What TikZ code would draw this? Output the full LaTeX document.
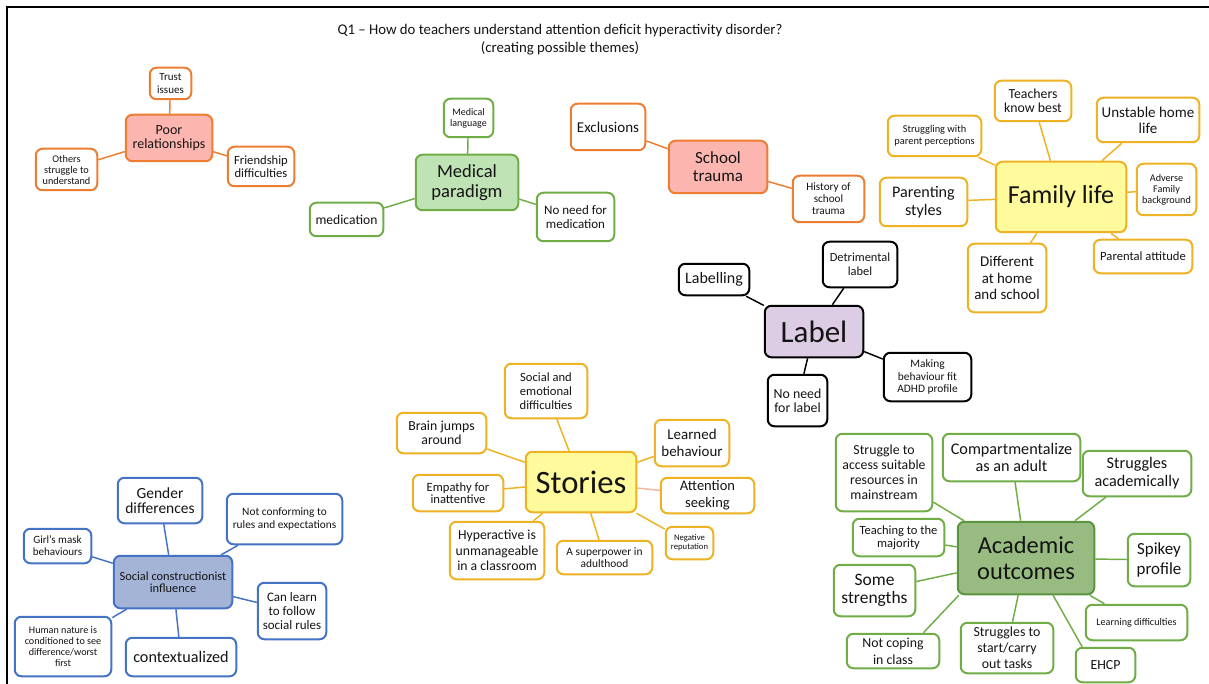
\documentclass[tikz,border=0pt]{standalone}
\usepackage{fontspec}
\setmainfont{Carlito}
\definecolor{orangeB}{HTML}{ED7D31}
\definecolor{salmonF}{HTML}{FDB6AF}
\definecolor{greenB}{HTML}{70AD47}
\definecolor{mintF}{HTML}{BFE3B4}
\definecolor{goldB}{HTML}{EEB222}
\definecolor{lemonF}{HTML}{FFFB9C}
\definecolor{lilacF}{HTML}{DCCCE4}
\definecolor{mossF}{HTML}{97BB80}
\definecolor{mossB}{HTML}{5E9440}
\definecolor{blueB}{HTML}{4472C4}
\definecolor{steelF}{HTML}{A3B4D7}
\definecolor{peachL}{HTML}{F4B6A0}
\definecolor{ink}{HTML}{141414}

\tikzset{
  boxbase/.style={rounded corners=5pt, line width=1.5pt, align=center, inner sep=1pt, text=ink, fill=white},
  obox/.style={boxbase, draw=orangeB},
  ohub/.style={boxbase, draw=orangeB, fill=salmonF},
  gbox/.style={boxbase, draw=greenB},
  ghub/.style={boxbase, draw=greenB, fill=mintF},
  ybox/.style={boxbase, draw=goldB},
  yhub/.style={boxbase, draw=goldB, fill=lemonF},
  kbox/.style={boxbase, draw=black},
  khub/.style={boxbase, draw=black, fill=lilacF},
  mhub/.style={boxbase, draw=mossB, fill=mossF},
  bbox/.style={boxbase, draw=blueB},
  bhub/.style={boxbase, draw=blueB, fill=steelF},
  link/.style={line width=1.1pt},
  olink/.style={link, draw=orangeB},
  glink/.style={link, draw=greenB},
  ylink/.style={link, draw=goldB},
  klink/.style={link, draw=black},
  blink/.style={link, draw=blueB},
}

% \bx{name}{style}{x1}{y1}{x2}{y2}{font size}{baselineskip}{text}
\newcommand\bx[9]{%
  \node[#2, minimum width={((#5)-(#3)-1.5)*0.75pt},
        minimum height={((#6)-(#4)-1.5)*0.75pt},
        font={\fontsize{#7}{#8}\selectfont}]
    (#1) at ({((#3)+(#5))/2},{((#4)+(#6))/2}) {#9};}

\begin{document}
\begin{tikzpicture}[x=0.75pt,y=-0.75pt]
\useasboundingbox (0,0) rectangle (1209,684);
\fill[white] (0,0) rectangle (1209,684);
\draw[line width=2pt] (7,684) -- (7,7) -- (1209,7);

% heading
\node[align=center, text=ink, font={\fontsize{11.1}{13.6}\selectfont}] (title) at (560,40)
  {Q1 – How do teachers understand attention deficit hyperactivity disorder?\\(creating possible themes)};

% Poor relationships
\bx{poor}{ohub}{125}{114}{213}{162}{10.5}{10.1}{Poor\\relationships}
\bx{trust}{obox}{149}{67}{192}{100}{8.25}{9.75}{Trust\\issues}
\bx{others}{obox}{35}{148}{98}{191}{7.7}{8.25}{Others\\struggle to\\understand}
\bx{friend}{obox}{227}{146}{295}{187}{9.45}{9.4}{Friendship\\difficulties}

% Medical paradigm
\bx{medical}{ghub}{415}{154}{519}{211}{13.9}{15}{Medical\\paradigm}
\bx{medlang}{gbox}{443}{98}{494}{138}{7.5}{8.25}{Medical\\language}
\bx{medication}{gbox}{309}{202}{384}{237}{10.2}{12}{medication}
\bx{noneedmed}{gbox}{536}{192}{615}{242}{9.75}{11}{No need for\\medication}

% School trauma
\bx{school}{ohub}{668}{140}{768}{194}{12.75}{13.7}{School\\trauma}
\bx{exclusions}{obox}{570}{103}{646}{151}{11.25}{13}{Exclusions}
\bx{history}{obox}{792}{175}{865}{223}{8.4}{9}{History of\\school\\trauma}

% Family life
\bx{family}{yhub}{995}{161}{1127}{233}{19.5}{21}{Family life}
\bx{teachers}{ybox}{994}{80}{1072}{122}{10.35}{10.5}{Teachers\\know best}
\bx{unstable}{ybox}{1096}{97}{1200}{143}{11.25}{11.8}{Unstable home\\life}
\bx{strugpar}{ybox}{887}{115}{982}{157}{7.8}{8.8}{Struggling with\\parent perceptions}
\bx{parenting}{ybox}{879}{177}{968}{227}{12.1}{13.7}{Parenting\\styles}
\bx{adverse}{ybox}{1136}{163}{1197}{216}{7.65}{8.25}{Adverse\\Family\\background}
\bx{attitude}{ybox}{1093}{239}{1193}{274}{9.45}{11}{Parental attitude}
\bx{different}{ybox}{967}{243}{1047}{313}{11.2}{12.5}{Different\\at home\\and school}

% Label
\bx{label}{khub}{764}{305}{864}{358}{23.25}{24}{Label}
\bx{labelling}{kbox}{678}{263}{750}{296}{12}{13}{Labelling}
\bx{detrimental}{kbox}{822}{241}{898}{288}{9.3}{10.5}{Detrimental\\label}
\bx{making}{kbox}{883}{352}{972}{402}{8.55}{9.5}{Making\\behaviour fit\\ADHD profile}
\bx{noneedlab}{kbox}{767}{374}{828}{427}{10.4}{10.5}{No need\\for label}

% Stories
\bx{stories}{yhub}{525}{451}{637}{513}{24.5}{25}{Stories}
\bx{socemo}{ybox}{504}{363}{588}{419}{9.45}{10.5}{Social and\\emotional\\difficulties}
\bx{brain}{ybox}{396}{412}{487}{454}{10.35}{10.5}{Brain jumps\\around}
\bx{learned}{ybox}{654}{419}{730}{467}{11.2}{12.5}{Learned\\behaviour}
\bx{attention}{ybox}{660}{477}{755}{514}{10.9}{12.5}{Attention\\seeking}
\bx{empathy}{ybox}{412}{474}{504}{512}{9.45}{9.2}{Empathy for\\inattentive}
\bx{hyper}{ybox}{449}{521}{545}{580}{10.3}{11.5}{Hyperactive is\\unmanageable\\in a classroom}
\bx{superpower}{ybox}{556}{540}{653}{575}{8.55}{8.8}{A superpower in\\adulthood}
\bx{negative}{ybox}{665}{526}{714}{560}{6.5}{7}{Negative\\reputation}

% Academic outcomes
\bx{academic}{mhub}{957}{521}{1095}{595}{18.3}{19.3}{Academic\\outcomes}
\bx{access}{gbox}{835}{433}{933}{512}{10.35}{11.25}{Struggle to\\access suitable\\resources in\\mainstream}
\bx{compart}{gbox}{942}{433}{1081}{482}{12.15}{13.3}{Compartmentalize\\as an adult}
\bx{strugacad}{gbox}{1082}{450}{1192}{497}{12.15}{13.7}{Struggles\\academically}
\bx{teaching}{gbox}{852}{518}{945}{557}{9.4}{10}{Teaching to the\\majority}
\bx{spikey}{gbox}{1127}{533}{1191}{587}{12.7}{15}{Spikey\\profile}
\bx{strengths}{gbox}{833}{564}{916}{617}{13.1}{13.7}{Some\\strengths}
\bx{learning}{gbox}{1085}{604}{1188}{641}{7.6}{9}{Learning difficulties}
\bx{notcoping}{gbox}{846}{633}{940}{669}{10.35}{13}{Not coping\\in class}
\bx{tasks}{gbox}{960}{622}{1054}{674}{10.4}{12}{Struggles to\\start/carry\\out tasks}
\bx{ehcp}{gbox}{1075}{647}{1136}{683}{10.4}{12}{EHCP}

% Social constructionist influence
\bx{social}{bhub}{113}{555}{233}{609}{9.3}{9.2}{Social constructionist\\influence}
\bx{gender}{bbox}{117}{477}{203}{524}{11.6}{11.25}{Gender\\differences}
\bx{conform}{bbox}{226}{493}{343}{545}{8.5}{9.5}{Not conforming to\\rules and expectations}
\bx{girls}{bbox}{23}{528}{92}{564}{8.3}{9.2}{Girl’s mask\\behaviours}
\bx{canlearn}{bbox}{257}{582}{327}{640}{9.75}{10.3}{Can learn\\to follow\\social rules}
\bx{human}{bbox}{14}{616}{112}{677}{7.6}{8.25}{Human nature is\\conditioned to see\\difference/worst\\first}
\bx{context}{bbox}{125}{637}{237}{677}{12.15}{13}{contextualized}

% connectors
\draw[olink] (trust) -- (poor);
\draw[olink] (others) -- (poor);
\draw[olink] (friend) -- (poor);

\draw[glink] (medlang) -- (medical);
\draw[glink] (medication) -- (medical);
\draw[glink] (noneedmed) -- (medical);

\draw[olink] (exclusions) -- (school);
\draw[olink] (history) -- (school);

\draw[ylink] (teachers) -- (family);
\draw[ylink] (unstable) -- (family);
\draw[ylink] (strugpar) -- (family);
\draw[ylink] (parenting) -- (family);
\draw[ylink] (adverse) -- (family);
\draw[ylink] (attitude) -- (family);
\draw[ylink] (different) -- (family);

\draw[klink] (labelling) -- (label);
\draw[klink] (detrimental) -- (label);
\draw[klink] (making) -- (label);
\draw[klink] (noneedlab) -- (label);

\draw[ylink] (socemo) -- (stories);
\draw[ylink] (brain) -- (stories);
\draw[ylink] (learned) -- (stories);
\draw[link, draw=peachL] (attention) -- (stories);
\draw[ylink] (empathy) -- (stories);
\draw[ylink] (hyper) -- (stories);
\draw[ylink] (superpower) -- (stories);
\draw[ylink] (negative) -- (stories);

\draw[glink] (access) -- (academic);
\draw[glink] (compart) -- (academic);
\draw[glink] (strugacad) -- (academic);
\draw[glink] (teaching) -- (academic);
\draw[glink] (spikey) -- (academic);
\draw[glink] (strengths) -- (academic);
\draw[glink] (learning) -- (academic);
\draw[glink] (notcoping.31) -- (academic.209);
\draw[glink] (tasks) -- (academic);
\draw[glink] (academic.306) -- (ehcp.142);

\draw[blink] (gender) -- (social);
\draw[blink] (conform) -- (social);
\draw[blink] (girls) -- (social);
\draw[blink] (canlearn) -- (social);
\draw[blink] (human) -- (social);
\draw[blink] (context) -- (social);
\end{tikzpicture}
\end{document}
